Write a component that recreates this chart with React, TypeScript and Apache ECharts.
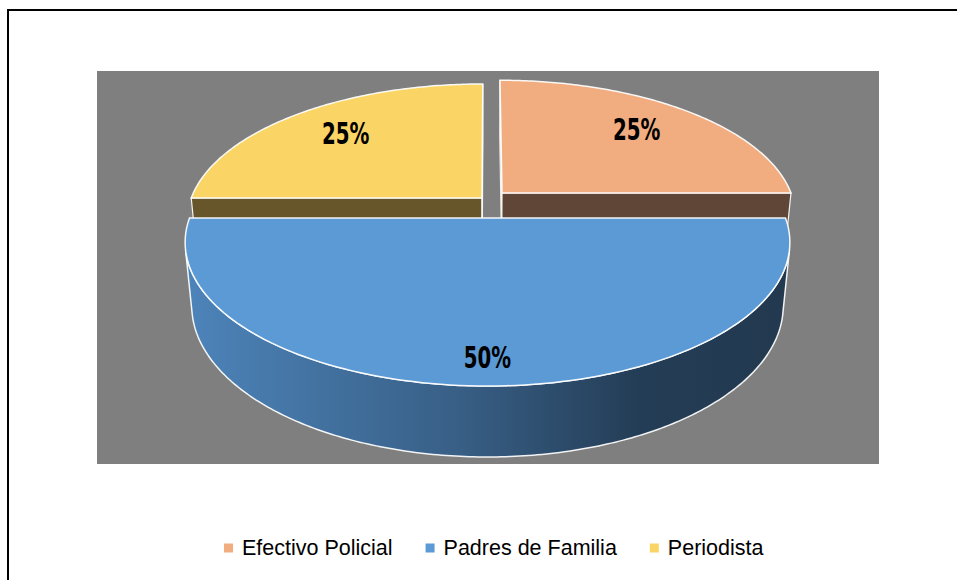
import React, { useEffect, useRef } from "react";
import * as echarts from "echarts";

// ---- data ----
const categories = ["Efectivo Policial", "Padres de Familia", "Periodista"];
const values = [25, 50, 25];
const percentLabels = ["25%", "50%", "25%"];

// ---- styles ----
const topColors = ["#F1AD80", "#5B9AD5", "#FAD565"];
const wallColors = ["#5F4636", "#2E4D6C", "#665629"];
const blueSideStops = [
  { offset: 0, color: "#4D84BA" },
  { offset: 0.45, color: "#385F86" },
  { offset: 0.75, color: "#243D56" },
  { offset: 1, color: "#22394F" },
];

// ---- 3D projection (perspective camera looking down at the pie) ----
const CX = 487.5;
const CY = 218;
const FOCAL = 1554.4;
const DIST = 5.216;
const SIN_E = 0.4683;
const COS_E = 0.8836;
const THICK = 0.2437;
const explodeOffsets = [
  [0.0502, -0.1848],
  [0, 0],
  [-0.0189, -0.147],
];
const labelRadius = [0.72, 0.85, 0.75];
const labelShift = [
  [0, -2],
  [0, 0],
  [5, 0],
];

function proj(X: number, H: number, Z: number): number[] {
  const yc = H * COS_E - Z * SIN_E;
  const zc = DIST - H * SIN_E - Z * COS_E;
  return [CX + (FOCAL * X) / zc, CY - (FOCAL * yc) / zc];
}

const total = values.reduce((a, b) => a + b, 0);

function renderItem(params: any, api: any) {
  const i = params.dataIndex;
  const v = api.value(0);
  let before = 0;
  for (let k = 0; k < i; k++) before += values[k];
  const t0 = (before / total) * Math.PI * 2;
  const t1 = ((before + v) / total) * Math.PI * 2;
  const [dx, dz] = explodeOffsets[i];
  const rim = (t: number, H: number) => proj(dx + Math.sin(t), H, dz - Math.cos(t));
  const mid = (t0 + t1) / 2;
  const base = Math.round(-Math.cos(mid) * 10) + 20;
  const children: any[] = [];
  const stroke = "rgba(255,255,255,0.92)";
  const Dc = DIST * COS_E;

  // curved outer side (visible part)
  const N = 240;
  const visTop: number[][] = [];
  const visBot: number[][] = [];
  for (let s = 0; s <= N; s++) {
    const t = t0 + ((t1 - t0) * s) / N;
    const dot = -1 - dx * Math.sin(t) - (Dc - dz) * Math.cos(t);
    if (dot > 0) {
      visTop.push(rim(t, 0));
      visBot.push(rim(t, -THICK));
    }
  }
  if (visTop.length > 1) {
    const pts = visTop.concat(visBot.slice().reverse());
    const fill =
      i === 1
        ? { type: "linear", x: 0, y: 0, x2: 1, y2: 0, colorStops: blueSideStops }
        : wallColors[i];
    children.push({
      type: "polygon",
      z2: base,
      shape: { points: pts },
      style: { fill, stroke, lineWidth: 1.5 },
    });
  }

  // radial walls
  const c0 = proj(dx, 0, dz);
  const c0b = proj(dx, -THICK, dz);
  const walls: [number, number[]][] = [
    [t0, [-Math.cos(t0), 0, -Math.sin(t0)]],
    [t1, [Math.cos(t1), 0, Math.sin(t1)]],
  ];
  walls.forEach(([t, n]) => {
    const dot = -dx * n[0] + (Dc - dz) * n[2];
    if (dot > 0) {
      children.push({
        type: "polygon",
        z2: base + 1,
        shape: { points: [c0, rim(t, 0), rim(t, -THICK), c0b] },
        style: { fill: wallColors[i], stroke, lineWidth: 1.2 },
      });
    }
  });

  // top face
  const topPts: number[][] = [c0];
  const M = 120;
  for (let s = 0; s <= M; s++) {
    const t = t0 + ((t1 - t0) * s) / M;
    topPts.push(rim(t, 0));
  }
  children.push({
    type: "polygon",
    z2: base + 2,
    shape: { points: topPts },
    style: { fill: topColors[i], stroke, lineWidth: 1.5 },
  });

  // label
  const r = labelRadius[i];
  const lp = proj(dx + r * Math.sin(mid), 0, dz - r * Math.cos(mid));
  children.push({
    type: "text",
    z2: 100,
    x: lp[0] + labelShift[i][0],
    y: lp[1] + labelShift[i][1],
    scaleX: 0.71,
    style: {
      text: percentLabels[i],
      fill: "#000000",
      fontSize: 31,
      fontWeight: "bold",
      fontFamily: '"DejaVu Sans Condensed", "DejaVu Sans", sans-serif',
      align: "center",
      verticalAlign: "middle",
    },
  });

  return { type: "group", children };
}

export default function App() {
  const ref = useRef<HTMLDivElement>(null);
  useEffect(() => {
    if (!ref.current) return;
    const chart = echarts.init(ref.current, undefined, { renderer: "svg" });
    chart.setOption({
      animation: false,
      backgroundColor: "#ffffff",
      graphic: [
        {
          type: "rect",
          z: 0,
          shape: { x: 97, y: 71, width: 782, height: 393 },
          style: { fill: "#7F7F7F" },
        },
        {
          type: "line",
          shape: { x1: 7, y1: 10, x2: 957, y2: 10 },
          style: { stroke: "#000", lineWidth: 2 },
        },
        {
          type: "line",
          shape: { x1: 8, y1: 9, x2: 8, y2: 580 },
          style: { stroke: "#000", lineWidth: 2 },
        },
      ],
      legend: {
        data: categories,
        left: 219,
        top: 532,
        icon: "path://M0,0L9,0L9,9L0,9Z",
        itemWidth: 17,
        itemHeight: 9,
        itemGap: 33,
        textStyle: {
          fontSize: 21.5,
          color: "#000000",
          fontFamily: '"Liberation Sans", Arial, sans-serif',
        },
      },
      series: [
        {
          type: "custom",
          name: "pie3d",
          coordinateSystem: "none",
          renderItem,
          silent: true,
          data: values.map((v, i) => ({ value: [v, i], name: categories[i] })),
        },
        {
          type: "pie",
          name: "legendSource",
          center: [-200, -200],
          radius: [0, 1],
          silent: true,
          label: { show: false },
          labelLine: { show: false },
          data: values.map((v, i) => ({
            value: v,
            name: categories[i],
            itemStyle: { color: topColors[i] },
          })),
        },
      ],
    });
    return () => chart.dispose();
  }, []);
  return (
    <div
      ref={ref}
      style={{ position: "absolute", left: 0, top: 0, width: 957, height: 580 }}
    />
  );
}
